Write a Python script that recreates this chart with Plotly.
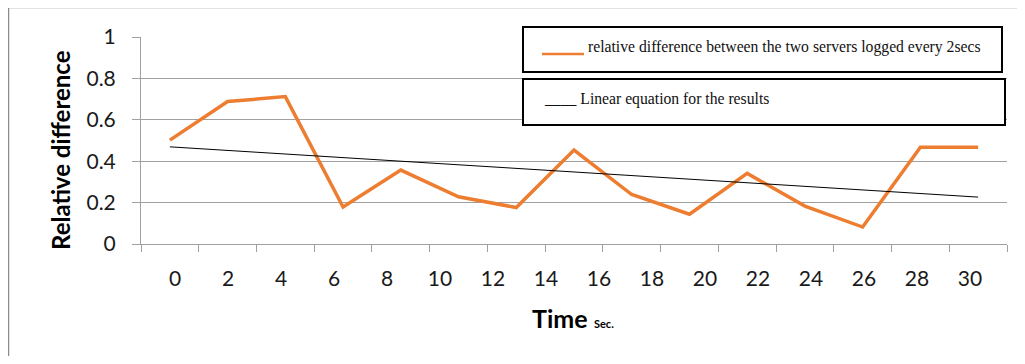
import numpy as np
import plotly.graph_objects as go

# ---- data ----
sample_ids = ["s01", "s02", "s03", "s04", "s05", "s06", "s07", "s08",
              "s09", "s10", "s11", "s12", "s13", "s14", "s15"]
relative_difference = [0.502, 0.688, 0.712, 0.179, 0.357, 0.228, 0.176, 0.454,
                       0.239, 0.144, 0.341, 0.183, 0.082, 0.467, 0.467]
time_labels = [0, 2, 4, 6, 8, 10, 12, 14, 16, 18, 20, 22, 24, 26, 28, 30]
y_ticks = [0, 0.2, 0.4, 0.6, 0.8, 1]
y_tick_text = ["0", "0.2", "0.4", "0.6", "0.8", "1"]

series_name = "relative difference between the two servers logged every 2secs"
trend_name = "Linear equation for the results"

# linear fit of the results
idx = np.arange(len(relative_difference))
slope, intercept = np.polyfit(idx, relative_difference, 1)
trend = list(slope * idx + intercept)

OFF = 8  # page body margin
W, H = 1009, 348
L, R, T, B = 133, 10, 29, 112
PW, PH = W - L - R, H - T - B


def px(x):  # screen x -> paper
    return (x - OFF - L) / PW


def py(y):  # screen y -> paper
    return (H - B - (y - OFF)) / PH


ORANGE = "#ED7D31"
GRID = "#a0a0a0"
FONT = "Lato"

fig = go.Figure()
fig.add_trace(go.Scatter(x=sample_ids, y=relative_difference, mode="lines",
                         line=dict(color=ORANGE, width=3.5), name=series_name,
                         xaxis="x", yaxis="y", showlegend=False))
fig.add_trace(go.Scatter(x=sample_ids, y=trend, mode="lines",
                         line=dict(color="black", width=1), name=trend_name,
                         xaxis="x", yaxis="y", showlegend=False))
# carrier trace for the time label axis
fig.add_trace(go.Scatter(x=time_labels, y=[None] * len(time_labels), mode="markers",
                         xaxis="x2", yaxis="y", showlegend=False, hoverinfo="skip"))

fig.update_layout(
    width=W, height=H,
    margin=dict(l=L, r=R, t=T, b=B, pad=0),
    paper_bgcolor="white", plot_bgcolor="white",
    font=dict(family=FONT, color="#1a1a1a"),
    showlegend=False,
    xaxis=dict(type="category", categoryorder="array", categoryarray=sample_ids,
               range=[-0.5, len(sample_ids) - 0.5],
               tickson="boundaries", ticks="outside", ticklen=7, tickcolor=GRID,
               tickwidth=1, showticklabels=False, showgrid=False,
               showline=True, linecolor=GRID, linewidth=1, zeroline=False),
    xaxis2=dict(overlaying="x", side="bottom", anchor="y",
                range=[-1.283, 31.396], tickmode="array", tickvals=time_labels,
                ticktext=[str(t) for t in time_labels], ticks="",
                showgrid=False, showline=False, zeroline=False,
                tickfont=dict(size=21, family=FONT, color="#1a1a1a"),
                ticklabelstandoff=20),
    yaxis=dict(range=[0, 1], tickmode="array", tickvals=y_ticks, ticktext=y_tick_text,
               ticks="outside", ticklen=8, tickcolor=GRID, tickwidth=1,
               showgrid=True, gridcolor=GRID, gridwidth=1,
               showline=True, linecolor=GRID, linewidth=1, zeroline=False,
               tickfont=dict(size=21, family=FONT, color="#1a1a1a"),
               ticklabelstandoff=12),
)

shapes = [
    # outer chart border
    dict(type="rect", xref="paper", yref="paper", x0=px(8.5), x1=px(1060),
         y0=py(400), y1=py(7.5), line=dict(color="#8c8c8c", width=1.5),
         fillcolor="rgba(0,0,0,0)", layer="below"),
    # legend boxes
    dict(type="rect", xref="paper", yref="paper", x0=px(523), x1=px(1002),
         y0=py(72), y1=py(27), line=dict(color="black", width=2),
         fillcolor="white", layer="above"),
    dict(type="rect", xref="paper", yref="paper", x0=px(523), x1=px(1005),
         y0=py(125), y1=py(79), line=dict(color="black", width=2),
         fillcolor="white", layer="above"),
    # orange legend stroke
    dict(type="line", xref="paper", yref="paper", x0=px(542), x1=px(584),
         y0=py(54), y1=py(54), line=dict(color=ORANGE, width=2.5), layer="above"),
]
fig.update_layout(shapes=shapes)

annotations = [
    dict(text=series_name, xref="paper", yref="paper", x=px(586), y=py(47),
         xanchor="left", yanchor="middle", showarrow=False,
         font=dict(family="Liberation Serif", size=15.7, color="#111")),
    dict(text="____ " + trend_name, xref="paper", yref="paper", x=px(542), y=py(99),
         xanchor="left", yanchor="middle", showarrow=False,
         font=dict(family="Liberation Serif", size=15.7, color="#111")),
    dict(text="<b>Relative difference</b>", xref="paper", yref="paper",
         x=px(60), y=py(150), textangle=-90, xanchor="center", yanchor="middle",
         showarrow=False, font=dict(family=FONT, size=24, color="black")),
    dict(text="<b>Time</b> <b><span style='font-size:11px'>Sec.</span></b>",
         xref="paper", yref="paper", x=px(573), y=py(318),
         xanchor="center", yanchor="middle", showarrow=False,
         font=dict(family=FONT, size=25, color="black")),
]
fig.update_layout(annotations=annotations)

fig.write_html("out.html")
